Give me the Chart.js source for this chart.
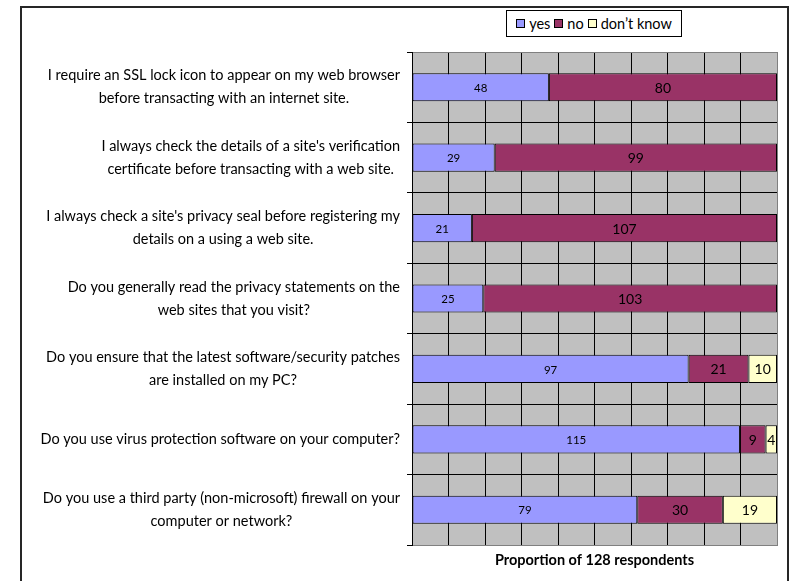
<!DOCTYPE html>
<html>
<head>
<meta charset="utf-8">
<script src="https://cdn.jsdelivr.net/npm/chart.js@4.4.1/dist/chart.umd.min.js"></script>
<style>
    body { margin: 0; background: #fff; }
    #wrap { position: relative; width: 791px; height: 581px; overflow: hidden; }
    #frame { position: absolute; left: 20px; top: 6px; width: 769px; height: 620px; border: 2px solid #262626; box-sizing: border-box; }
    #legend { position: absolute; left: 506px; top: 10px; width: 176px; height: 27px; border: 1px solid #000; box-sizing: border-box;
              display: flex; align-items: center; justify-content: center; font: 14.5px Lato, sans-serif; background: #fff; }
    .item { display: flex; align-items: center; margin: 0 2px; }
    .sw { width: 7px; height: 7px; border: 1px solid #000; margin-right: 4px; }
    canvas { position: absolute; left: 0; top: 0; }
</style>
</head>
<body>
<div id="wrap">
    <div id="frame"></div>
    <canvas id="chart" width="791" height="581"></canvas>
    <div id="legend"></div>
</div>
<script>
// Datos
const categories = [
    ['I require an SSL lock icon to appear on my web browser', 'before transacting with an internet site.'],
    ["I always check the details of a site's verification", 'certificate before transacting with a web site.'],
    ["I always check a site's privacy seal before registering my", 'details on a using a web site.'],
    ['Do you generally read the privacy statements on the', 'web sites that you visit?'],
    ['Do you ensure that the latest software/security patches', 'are installed on my PC?'],
    ['Do you use virus protection software on your computer?'],
    ['Do you use a third party (non-microsoft) firewall on your', 'computer or network?']
];
const yesValues = [48, 29, 21, 25, 97, 115, 79];
const noValues = [80, 99, 107, 103, 21, 9, 30];
const dontKnowValues = [0, 0, 0, 0, 10, 4, 19];
const seriesNames = ['yes', 'no', 'don\u2019t know'];
const seriesColors = ['#9999FF', '#993366', '#FFFFCC'];
const respondents = 128;
const gridSteps = 10;
const axisTitle = 'Proportion of 128 respondents';

const FONT = 'Lato';

// Leyenda
const legendEl = document.getElementById('legend');
seriesNames.forEach((name, i) => {
    legendEl.innerHTML += `<span class="item"><span class="sw" style="background:${seriesColors[i]}"></span>${name}</span>`;
});

// --- PLUGINS ---
const plotBg = {
    id: 'plotBg',
    beforeDraw(chart) {
        const { ctx, chartArea: a } = chart;
        ctx.save();
        ctx.fillStyle = '#C0C0C0';
        ctx.fillRect(a.left, a.top, a.right - a.left, a.bottom - a.top);
        ctx.restore();
    }
};

const catLabels = {
    id: 'catLabels',
    afterDraw(chart) {
        const { ctx } = chart;
        const yScale = chart.scales.y;
        const rightEdge = chart.chartArea.left - 12;
        ctx.save();
        ctx.font = `14.5px ${FONT}`;
        ctx.fillStyle = '#000';
        ctx.textAlign = 'center';
        ctx.textBaseline = 'middle';
        categories.forEach((lines, i) => {
            const w = Math.max(...lines.map(l => ctx.measureText(l).width));
            const cx = rightEdge - w / 2;
            const cy = yScale.getPixelForValue(i);
            const lh = 23;
            lines.forEach((l, j) => {
                ctx.fillText(l, cx, cy + (j - (lines.length - 1) / 2) * lh);
            });
        });
        ctx.restore();
    }
};

const valueLabels = {
    id: 'valueLabels',
    afterDatasetsDraw(chart) {
        const { ctx } = chart;
        ctx.save();
        ctx.textAlign = 'center';
        ctx.textBaseline = 'middle';
        ctx.fillStyle = '#000';
        chart.data.datasets.forEach((ds, di) => {
            ctx.font = `${di === 0 ? 11.5 : 14}px ${FONT}`;
            chart.getDatasetMeta(di).data.forEach((el, i) => {
                const v = ds.data[i];
                if (!v) return;
                ctx.fillText(v, (el.x + el.base) / 2, el.y + 1);
            });
        });
        ctx.restore();
    }
};

// --- GRÁFICA ---
const seriesData = [yesValues, noValues, dontKnowValues];
new Chart(document.getElementById('chart'), {
    type: 'bar',
    data: {
        labels: categories.map(c => c.join(' ')),
        datasets: seriesNames.map((name, i) => ({
            label: name,
            data: seriesData[i],
            backgroundColor: seriesColors[i],
            borderColor: '#000',
            borderWidth: 1,
            borderSkipped: false,
            categoryPercentage: 1,
            barPercentage: 0.4
        }))
    },
    options: {
        indexAxis: 'y',
        responsive: false,
        animation: false,
        devicePixelRatio: 1,
        layout: { padding: { top: 52, right: 14, left: 0, bottom: 0 } },
        plugins: { legend: { display: false }, tooltip: { enabled: false } },
        scales: {
            x: {
                type: 'linear', stacked: true, min: 0, max: respondents,
                afterBuildTicks: s => { s.ticks = Array.from({ length: gridSteps + 1 }, (_, i) => ({ value: i * respondents / gridSteps })); },
                afterFit: s => { s.height = 36; },
                ticks: { display: false },
                grid: { drawTicks: false, color: c => c.index === gridSteps ? '#808080' : '#000', lineWidth: 1 },
                border: { color: '#808080' },
                title: { display: true, text: axisTitle, color: '#000', font: { family: FONT, size: 14.5, weight: 'bold' }, padding: { top: 0, bottom: 12 } }
            },
            y: {
                stacked: true,
                afterFit: s => { s.width = 412; },
                ticks: { display: false },
                grid: {
                    offset: true, drawTicks: true, tickLength: 5, tickColor: '#000',
                    color: c => (c.index === 0 || c.index === categories.length) ? '#808080' : '#000'
                },
                border: { color: '#000' }
            }
        }
    },
    plugins: [plotBg, catLabels, valueLabels]
});
</script>
</body>
</html>
